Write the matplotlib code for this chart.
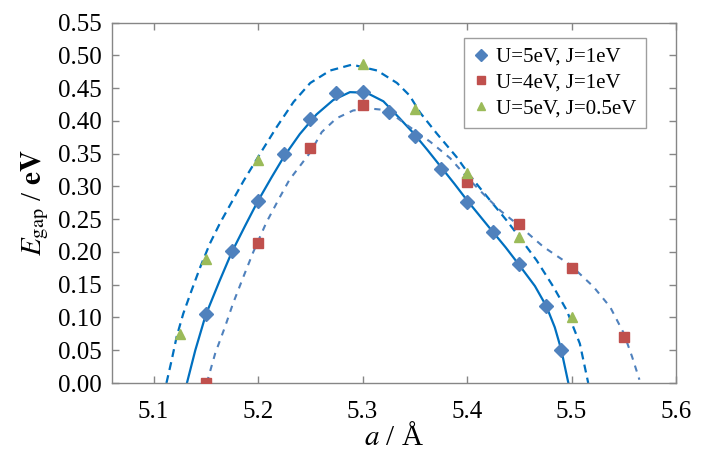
import matplotlib
matplotlib.use("Agg")
import matplotlib.pyplot as plt

plt.rcParams['font.family'] = ['Liberation Serif', 'DejaVu Serif']
plt.rcParams['mathtext.fontset'] = 'stix'

# measured points
a_u5j1 = [5.150, 5.175, 5.200, 5.225, 5.250, 5.275, 5.300, 5.325, 5.350, 5.375, 5.400, 5.425, 5.450, 5.476, 5.490]
e_u5j1 = [0.106, 0.202, 0.278, 0.350, 0.403, 0.443, 0.444, 0.414, 0.377, 0.327, 0.277, 0.230, 0.182, 0.117, 0.050]

a_u4j1 = [5.150, 5.200, 5.250, 5.300, 5.400, 5.450, 5.500, 5.550]
e_u4j1 = [0.000, 0.214, 0.358, 0.425, 0.307, 0.242, 0.175, 0.070]

a_u5j05 = [5.125, 5.150, 5.200, 5.300, 5.350, 5.400, 5.450, 5.500]
e_u5j05 = [0.075, 0.190, 0.341, 0.487, 0.419, 0.320, 0.223, 0.101]

# fitted curves
fa_u5j1 = [5.132, 5.140, 5.150, 5.163, 5.175, 5.188, 5.200, 5.213, 5.225, 5.240, 5.256, 5.272, 5.288,
           5.304, 5.320, 5.335, 5.349, 5.362, 5.375, 5.388, 5.400, 5.422, 5.437, 5.450, 5.465, 5.476,
           5.484, 5.490, 5.497]
fe_u5j1 = [0.000, 0.050, 0.104, 0.155, 0.200, 0.241, 0.278, 0.314, 0.346, 0.380, 0.410, 0.432, 0.444,
           0.443, 0.430, 0.405, 0.381, 0.356, 0.330, 0.304, 0.279, 0.236, 0.207, 0.180, 0.148, 0.117,
           0.085, 0.052, 0.000]

fa_u5j05 = [5.1124, 5.1174, 5.1222, 5.1285, 5.1366, 5.1445, 5.154, 5.1636, 5.1748, 5.186, 5.202, 5.218,
            5.234, 5.250, 5.269, 5.290, 5.314, 5.333, 5.345, 5.355, 5.371, 5.390, 5.403, 5.422, 5.438,
            5.450, 5.4667, 5.4826, 5.4954, 5.508, 5.516]
fe_u5j05 = [0.000, 0.035, 0.071, 0.106, 0.142, 0.176, 0.213, 0.244, 0.276, 0.308, 0.350, 0.391,
            0.429, 0.458, 0.477, 0.486, 0.477, 0.458, 0.439, 0.413, 0.381, 0.345, 0.316, 0.279, 0.248,
            0.223, 0.187, 0.147, 0.111, 0.060, 0.000]

fa_u4j1 = [5.151, 5.159, 5.1685, 5.176, 5.186, 5.1955, 5.208, 5.221, 5.230, 5.250, 5.261, 5.275, 5.291,
           5.307, 5.320, 5.326, 5.345, 5.365, 5.384, 5.400, 5.416, 5.432, 5.450, 5.473, 5.499, 5.521,
           5.537, 5.550, 5.558, 5.565]
fe_u4j1 = [0.000, 0.045, 0.086, 0.121, 0.162, 0.200, 0.245, 0.284, 0.310, 0.352, 0.383, 0.404, 0.416,
           0.419, 0.417, 0.413, 0.391, 0.368, 0.343, 0.314, 0.288, 0.263, 0.240, 0.208, 0.180, 0.147,
           0.116, 0.076, 0.040, 0.005]

labels = ['U=5eV, J=1eV', 'U=4eV, J=1eV', 'U=5eV, J=0.5eV']
xticks = [5.1, 5.2, 5.3, 5.4, 5.5, 5.6]
yticks = [0.00, 0.05, 0.10, 0.15, 0.20, 0.25, 0.30, 0.35, 0.40, 0.45, 0.50, 0.55]

fig = plt.figure(figsize=(7.11, 4.69), dpi=100)
ax = fig.add_axes([111.7/711, 1-383/469, (676-111.7)/711, (383-22.7)/469])

dark = '#0070C0'
light = '#4F81BD'
ax.plot(fa_u5j1, fe_u5j1, color=dark, lw=1.6, zorder=2, solid_joinstyle='round')
ax.plot(fa_u5j05, fe_u5j05, color=dark, lw=1.6, linestyle=(0, (3.6, 2.4)), zorder=2)
ax.plot(fa_u4j1, fe_u4j1, color=light, lw=1.5, linestyle=(0, (3.0, 3.0)), zorder=2)

ax.plot(a_u5j1, e_u5j1, 'D', color='#4F81BD', ms=7.5, mec='#4F81BD', ls='none', label=labels[0], zorder=3)
ax.plot(a_u4j1, e_u4j1, 's', color='#C0504D', ms=6.8, mec='#C0504D', ls='none', label=labels[1], zorder=3)
ax.plot(a_u5j05, e_u5j05, '^', color='#9BBB59', ms=7.5, mec='#9BBB59', ls='none', label=labels[2], zorder=3)

ax.set_xlim(5.06, 5.6)
ax.set_ylim(0, 0.55)
ax.set_xticks(xticks)
ax.set_xticklabels([f'{v:.1f}' for v in xticks])
ax.set_yticks(yticks)
ax.set_yticklabels([f'{v:.2f}' for v in yticks])

gray = '#868686'
for s in ax.spines.values():
    s.set_color(gray)
    s.set_linewidth(1.0)
ax.tick_params(axis='both', direction='in', length=5, width=1, color=gray,
               top=True, right=True, labelsize=18, labelfontfamily='Liberation Serif')
ax.tick_params(axis='x', pad=13)
ax.tick_params(axis='y', pad=7)

ax.set_xlabel(r'$a$ / Å', fontsize=21, labelpad=0)
ax.set_ylabel(r'$E_{\mathrm{gap}}$ / $\mathbf{eV}$', fontsize=21, labelpad=5)

leg = ax.legend(loc='upper left', bbox_to_anchor=(464/711, 1-38/469), bbox_transform=fig.transFigure,
                fontsize=15, frameon=True, fancybox=False, borderaxespad=0, handlelength=0.7,
                handletextpad=0.4, borderpad=0.45, labelspacing=0.3, markerscale=0.75)
leg.get_frame().set_edgecolor(gray)
leg.get_frame().set_linewidth(1.0)

fig.savefig('out.png', dpi=100)
